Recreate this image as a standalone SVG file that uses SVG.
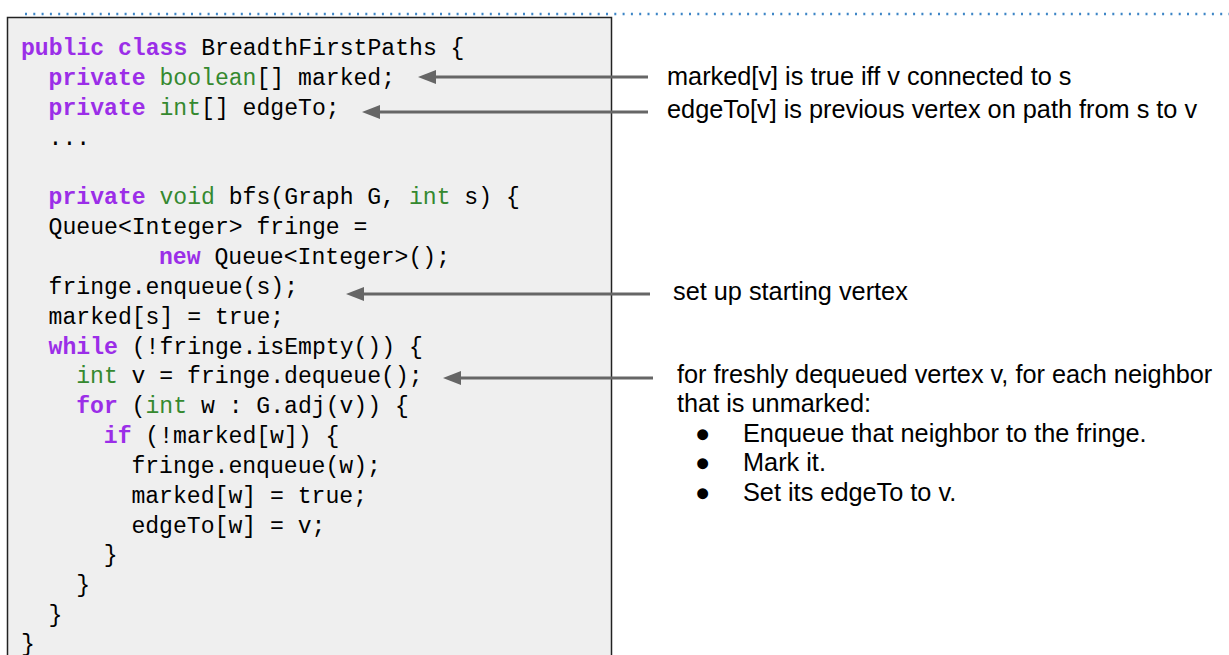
<svg xmlns="http://www.w3.org/2000/svg" width="1229" height="655" viewBox="0 0 1229 655">
  <style>
    .code { font-family: "Liberation Mono", "DejaVu Sans Mono", monospace; font-size: 23.1px; fill: #000; white-space: pre; }
    .kw { fill: #9b2ee8; font-weight: bold; }
    .ty { fill: #35892f; }
    .note { font-family: "Liberation Sans", Arial, sans-serif; font-size: 25.3px; fill: #000; }
    .arrow { stroke: #666666; stroke-width: 3; fill: none; marker-end: url(#ah); }
  </style>
  <defs>
    <marker id="ah" viewBox="0 0 18 14" refX="6" refY="7" markerWidth="18" markerHeight="14" markerUnits="userSpaceOnUse" orient="auto">
      <path d="M0,0 L18,7 L0,14 z" fill="#666666"/>
    </marker>
  </defs>
  <rect width="1229" height="655" fill="#ffffff"/>
  <line x1="25" y1="14" x2="1229" y2="14" stroke="#3d85c6" stroke-width="2.5" stroke-dasharray="2 6.3"/>

  <g id="code-box">
    <rect x="7.5" y="17.5" width="604" height="660" fill="#efefef" stroke="#222222" stroke-width="1.5"/>
    <text class="code" x="21" y="55"><tspan class="kw">public class</tspan> BreadthFirstPaths {</text>
    <text class="code" x="48.6" y="84.85"><tspan class="kw">private</tspan> <tspan class="ty">boolean</tspan>[] marked;</text>
    <text class="code" x="48.6" y="114.7"><tspan class="kw">private</tspan> <tspan class="ty">int</tspan>[] edgeTo;</text>
    <text class="code" x="48.6" y="144.55">...</text>
    <text class="code" x="48.6" y="204.25"><tspan class="kw">private</tspan> <tspan class="ty">void</tspan> bfs(Graph G, <tspan class="ty">int</tspan> s) {</text>
    <text class="code" x="48.6" y="234.1">Queue&lt;Integer&gt; fringe =</text>
    <text class="code" x="159" y="263.95"><tspan class="kw">new</tspan> Queue&lt;Integer&gt;();</text>
    <text class="code" x="48.6" y="293.8">fringe.enqueue(s);</text>
    <text class="code" x="48.6" y="323.65">marked[s] = true;</text>
    <text class="code" x="48.6" y="353.5"><tspan class="kw">while</tspan> (!fringe.isEmpty()) {</text>
    <text class="code" x="76.2" y="383.35"><tspan class="ty">int</tspan> v = fringe.dequeue();</text>
    <text class="code" x="76.2" y="413.2"><tspan class="kw">for</tspan> (<tspan class="ty">int</tspan> w : G.adj(v)) {</text>
    <text class="code" x="103.8" y="443.05"><tspan class="kw">if</tspan> (!marked[w]) {</text>
    <text class="code" x="131.4" y="472.9">fringe.enqueue(w);</text>
    <text class="code" x="131.4" y="502.75">marked[w] = true;</text>
    <text class="code" x="131.4" y="532.6">edgeTo[w] = v;</text>
    <text class="code" x="103.8" y="562.45">}</text>
    <text class="code" x="76.2" y="592.3">}</text>
    <text class="code" x="48.6" y="622.15">}</text>
    <text class="code" x="21" y="651">}</text>
  </g>

  <g id="connectors">
    <line class="arrow" x1="648" y1="77" x2="430" y2="77"/>
    <line class="arrow" x1="648" y1="112" x2="374" y2="112"/>
    <line class="arrow" x1="650" y1="294" x2="358" y2="294"/>
    <line class="arrow" x1="653" y1="378" x2="455" y2="378"/>
  </g>

  <g id="note-marked">
    <text class="note" x="667" y="85">marked[v] is true iff v connected to s</text>
  </g>
  <g id="note-edgeTo">
    <text class="note" x="667" y="118">edgeTo[v] is previous vertex on path from s to v</text>
  </g>
  <g id="note-start">
    <text class="note" x="673" y="300">set up starting vertex</text>
  </g>
  <g id="note-loop">
    <text class="note" x="677" y="383">for freshly dequeued vertex v, for each neighbor</text>
    <text class="note" x="677" y="412">that is unmarked:</text>
    <text class="note" x="695" y="442">●</text>
    <text class="note" x="743" y="442">Enqueue that neighbor to the fringe.</text>
    <text class="note" x="695" y="471">●</text>
    <text class="note" x="743" y="471">Mark it.</text>
    <text class="note" x="695" y="501">●</text>
    <text class="note" x="743" y="501">Set its edgeTo to v.</text>
  </g>
</svg>
